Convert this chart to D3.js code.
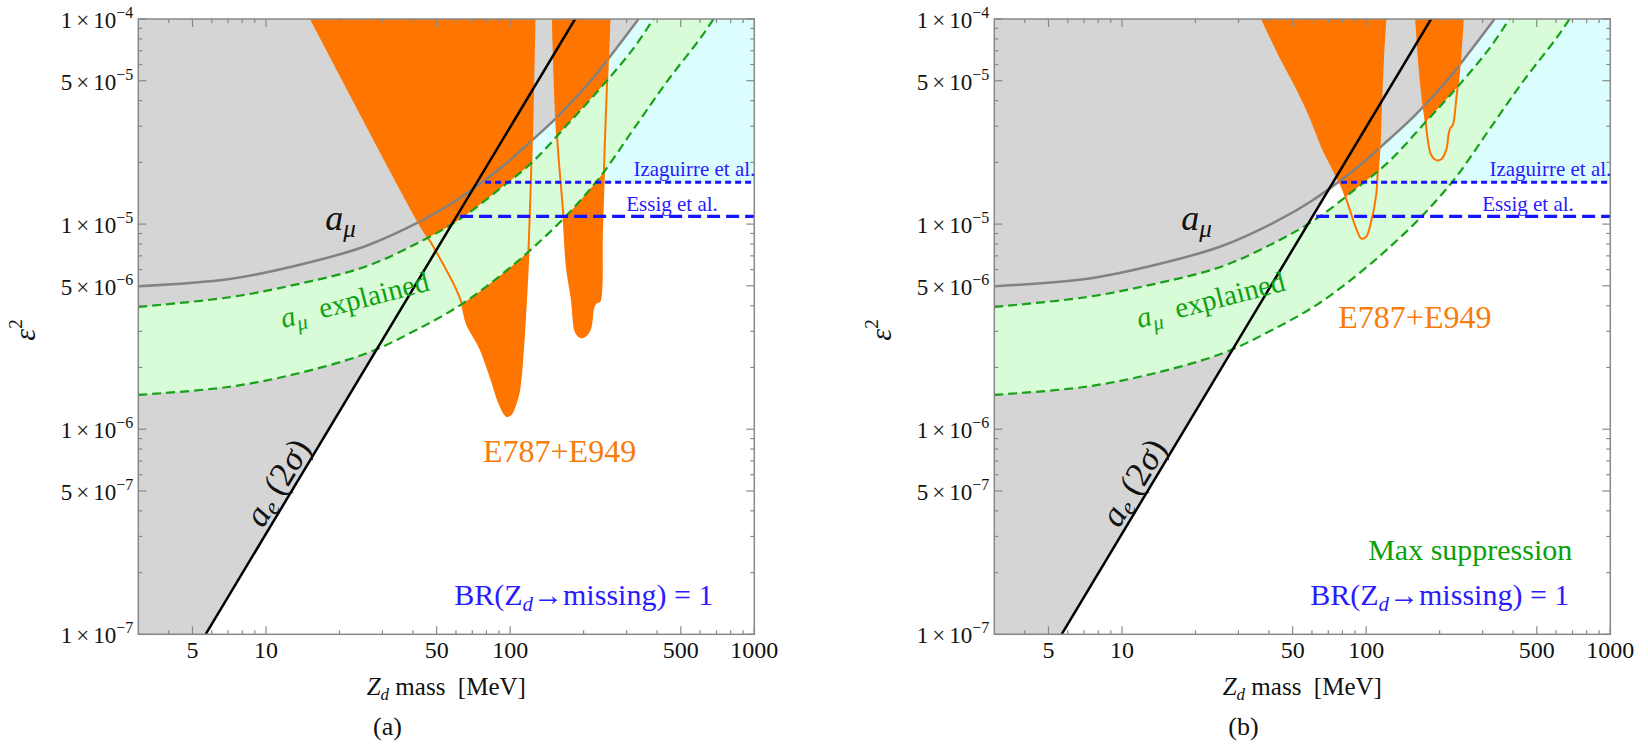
<!DOCTYPE html>
<html>
<head>
<meta charset="utf-8">
<script src="https://cdn.jsdelivr.net/npm/d3@7"></script>
<style>
  body { margin: 0; background: #fff; }
</style>
</head>
<body>
<svg id="chart" width="1648" height="744"></svg>
<script>
// ---- data: [mass in MeV, epsilon^2] ----
let xTicksMajor = [5, 10, 50, 100, 500, 1000];
let xTickLabels = ["5", "10", "50", "100", "500", "1000"];
let xTicksMinor = [4, 6, 7, 8, 9, 20, 30, 40, 60, 70, 80, 90, 200, 300, 400, 600, 700, 800, 900];
let yTicksMajor = [1e-7, 5e-7, 1e-6, 5e-6, 1e-5, 5e-5, 1e-4];
let yTickMant = ["1", "5", "1", "5", "1", "5", "1"];
let yTickExp = ["7", "7", "6", "6", "5", "5", "4"];
let yTicksMinor = [2e-7, 3e-7, 4e-7, 6e-7, 7e-7, 8e-7, 9e-7,
                   2e-6, 3e-6, 4e-6, 6e-6, 7e-6, 8e-6, 9e-6,
                   2e-5, 3e-5, 4e-5, 6e-5, 7e-5, 8e-5, 9e-5];

// a_mu (gray solid) boundary
let aMuLine = [[3, 4.98e-6], [7.1, 5.4e-6], [13.5, 6.3e-6], [25.5, 7.8e-6], [42.8, 1.03e-5],
               [60, 1.3e-5], [91, 1.87e-5], [124.6, 2.6e-5], [160.3, 3.44e-5], [220, 5.2e-5],
               [282, 7.6e-5], [335.6, 1e-4]];
// a_mu explained band (green dashed)
let greenUpper = [[3, 3.95e-6], [7.1, 4.4e-6], [13.5, 5.1e-6], [25.5, 6.2e-6], [42.8, 8.2e-6],
                  [62.4, 1.06e-5], [91, 1.49e-5], [124.6, 2.03e-5], [170.8, 3.04e-5],
                  [233.8, 4.59e-5], [320, 7.19e-5], [386, 1e-4]];
let greenLower = [[3, 1.47e-6], [7.1, 1.61e-6], [13.5, 1.87e-6], [26, 2.35e-6], [40.2, 3.0e-6],
                  [63, 4.05e-6], [91, 5.6e-6], [123, 7.6e-6], [170.8, 1.106e-5], [233.8, 1.7e-5],
                  [320, 2.9e-5], [438.6, 4.95e-5], [600.8, 8.05e-5], [681, 1e-4]];
// a_e (2 sigma), black
let aeLine = [[5.66, 1e-7], [184.5, 1e-4]];
// Izaguirre et al. (dotted) and Essig et al. (dashed)
let izaguirre = [[79, 1.6e-5], [1000, 1.6e-5]];
let essig = [[62.4, 1.09e-5], [1000, 1.09e-5]];

// E787+E949, panel (a)
let e787a1 = [[15.3, 1e-4], [42.1, 1.026e-5], [48.5, 7.75e-6], [59.5, 4.94e-6], [63.4, 4.1e-6],
              [66.4, 3.28e-6], [75.4, 2.48e-6], [82.8, 1.83e-6], [91, 1.31e-6], [96.9, 1.16e-6],
              [101, 1.19e-6], [104.5, 1.3e-6], [108.1, 1.49e-6], [110, 1.7e-6], [113.4, 2.67e-6],
              [115.2, 3.6e-6], [118.9, 7.33e-6], [121.6, 1.61e-5], [123.9, 4.1e-5], [125.8, 1e-4]];
let e787a2 = [[149.6, 1e-4], [155.4, 2.78e-5], [165.4, 1.085e-5], [170.8, 6.19e-6], [179.1, 4.26e-6],
              [184.7, 3.04e-6], [190, 2.86e-6], [196.7, 2.8e-6], [204, 2.86e-6], [212.8, 3.1e-6],
              [219.5, 3.95e-6], [226.6, 4.18e-6], [232.3, 4.2e-6], [237.6, 9.04e-6],
              [245.1, 2.78e-5], [255.3, 1e-4]];
// E787+E949, panel (b)
let e787b1 = [[37.5, 1e-4], [44.1, 6.68e-5], [51.6, 4.68e-5], [58.6, 3.4e-5], [62.4, 2.82e-5],
              [66.4, 2.34e-5], [71.9, 1.94e-5], [76.5, 1.67e-5], [80.2, 1.49e-5], [85.4, 1.19e-5],
              [91, 9.53e-6], [95.4, 8.51e-6], [100, 8.67e-6], [104.8, 1.026e-5], [109.9, 1.385e-5],
              [111.6, 1.8e-5], [113.4, 2.34e-5], [115.2, 3.95e-5], [117.8, 7.19e-5], [120, 1e-4]];
let e787b2 = [[160.3, 1e-4], [165.4, 5.85e-5], [170.6, 4.03e-5], [175, 3.22e-5], [178.9, 2.57e-5],
              [184.7, 2.17e-5], [193.6, 2.05e-5], [203, 2.07e-5], [212.8, 2.3e-5], [218, 2.77e-5],
              [220.9, 2.93e-5], [226.5, 3.04e-5], [233.8, 4.03e-5], [241.2, 5.85e-5], [248.8, 1e-4]];

let panels = [
  { left: 138.3, tag: "(a)", tagX: 387.5, regions: [e787a1, e787a2], e787Label: [483, 461.7], maxSupp: false },
  { left: 994.3, tag: "(b)", tagX: 1243.5, regions: [e787b1, e787b2], e787Label: [1338.3, 328.3], maxSupp: true }
];

let plotW = 616, plotTop = 19, plotBottom = 634.3;
let serif = "'Liberation Serif', 'Times New Roman', serif";
let col = {
  gray: "#d5d5d5", cyan: "#dcfdfd", green: "#d8fbd8", orange: "#fe7600",
  grayLine: "#828282", greenLine: "#19a019", blue: "#1414ff", blueText: "#2a1aff",
  greenText: "#10a010", orangeText: "#f77c0a", frame: "#888888"
};

let svg = d3.select("#chart");

panels.forEach(function(p, pi) {
  let x = d3.scaleLog().domain([3, 1000]).range([p.left, p.left + plotW]);
  let y = d3.scaleLog().domain([1e-7, 1e-4]).range([plotBottom, plotTop]);
  let line = d3.line().x(d => x(d[0])).y(d => y(d[1])).curve(d3.curveCatmullRom.alpha(0.5));
  let straight = d3.line().x(d => x(d[0])).y(d => y(d[1]));

  let g = svg.append("g");
  svg.append("clipPath").attr("id", "clip" + pi)
    .append("rect").attr("x", p.left).attr("y", plotTop).attr("width", plotW).attr("height", plotBottom - plotTop);
  let plot = g.append("g").attr("clip-path", "url(#clip" + pi + ")");

  // small helper so every label gets the serif font inline
  function label(parent) {
    return parent.append("text").style("font-family", serif).style("white-space", "pre");
  }

  // cyan excluded region above Izaguirre et al.
  plot.append("rect")
    .attr("x", x(izaguirre[0][0])).attr("y", y(1e-4))
    .attr("width", x(1000) - x(izaguirre[0][0])).attr("height", y(izaguirre[0][1]) - y(1e-4))
    .attr("fill", col.cyan);

  // gray excluded regions (a_mu and a_e)
  plot.append("path")
    .attr("d", line(aMuLine) + "L" + x(3) + "," + y(1e-4) + "Z")
    .attr("fill", col.gray);
  plot.append("path")
    .attr("d", straight(aeLine) + "L" + x(3) + "," + y(1e-4) + "L" + x(3) + "," + y(1e-7) + "Z")
    .attr("fill", col.gray);

  // E787+E949 fills
  p.regions.forEach(function(r) {
    plot.append("path").attr("d", line(r) + "Z").attr("fill", col.orange);
  });

  // a_mu explained band
  let up = line(greenUpper);
  let lo = line(greenLower.slice().reverse()).replace(/^M/, "L");
  plot.append("path").attr("d", up + lo + "Z").attr("fill", col.green);

  // lines
  plot.append("path").attr("d", line(aMuLine)).attr("fill", "none")
    .attr("stroke", col.grayLine).attr("stroke-width", 2.5);
  p.regions.forEach(function(r) {
    plot.append("path").attr("d", line(r)).attr("fill", "none")
      .attr("stroke", col.orange).attr("stroke-width", 2);
  });
  [greenUpper, greenLower].forEach(function(c) {
    plot.append("path").attr("d", line(c)).attr("fill", "none")
      .attr("stroke", col.greenLine).attr("stroke-width", 2.2).attr("stroke-dasharray", "9,5");
  });
  plot.append("path").attr("d", straight(aeLine)).attr("fill", "none")
    .attr("stroke", "#000").attr("stroke-width", 2.5);
  plot.append("path").attr("d", straight(izaguirre)).attr("fill", "none")
    .attr("stroke", col.blue).attr("stroke-width", 3.2).attr("stroke-dasharray", "6,4");
  plot.append("path").attr("d", straight(essig)).attr("fill", "none")
    .attr("stroke", col.blue).attr("stroke-width", 3.2).attr("stroke-dasharray", "13,6");

  // frame and ticks
  g.append("rect").attr("x", p.left).attr("y", plotTop).attr("width", plotW).attr("height", plotBottom - plotTop)
    .attr("fill", "none").attr("stroke", col.frame).attr("stroke-width", 1.5);
  let ticks = g.append("g").attr("stroke", col.frame).attr("stroke-width", 1.2);
  function xt(v, len) {
    ticks.append("line").attr("x1", x(v)).attr("x2", x(v)).attr("y1", plotBottom).attr("y2", plotBottom - len);
    ticks.append("line").attr("x1", x(v)).attr("x2", x(v)).attr("y1", plotTop).attr("y2", plotTop + len);
  }
  function yt(v, len) {
    ticks.append("line").attr("y1", y(v)).attr("y2", y(v)).attr("x1", p.left).attr("x2", p.left + len);
    ticks.append("line").attr("y1", y(v)).attr("y2", y(v)).attr("x1", p.left + plotW).attr("x2", p.left + plotW - len);
  }
  xTicksMajor.forEach(v => xt(v, 8));
  xTicksMinor.forEach(v => xt(v, 4));
  yTicksMajor.forEach(v => yt(v, 8));
  yTicksMinor.forEach(v => yt(v, 4));

  // tick labels
  xTicksMajor.forEach(function(v, i) {
    label(g).attr("x", x(v)).attr("y", 658).attr("text-anchor", "middle")
      .attr("font-size", 24).attr("fill", "#111").text(xTickLabels[i]);
  });
  yTicksMajor.forEach(function(v, i) {
    let t = label(g).attr("x", p.left - 5).attr("y", y(v) + 9)
      .attr("text-anchor", "end").attr("font-size", 23).attr("fill", "#111");
    t.append("tspan").text(yTickMant[i]);
    t.append("tspan").attr("dx", 4).text("\u00d7");
    t.append("tspan").attr("dx", 4).text("10");
    t.append("tspan").attr("dy", -10).attr("font-size", 16).text("\u2212" + yTickExp[i]);
  });

  // axis titles
  let xl = label(g).attr("x", p.left + plotW / 2).attr("y", 695).attr("text-anchor", "middle")
    .attr("font-size", 25).attr("fill", "#111");
  xl.append("tspan").attr("font-style", "italic").text("Z");
  xl.append("tspan").attr("font-style", "italic").attr("font-size", 17).attr("dy", 5).text("d");
  xl.append("tspan").attr("dy", -5).text(" mass  [MeV]");

  let yl = label(g).attr("transform", "translate(" + (p.left - 103) + ",330) rotate(-90)")
    .attr("text-anchor", "middle").attr("font-size", 30).attr("fill", "#111");
  yl.append("tspan").attr("font-style", "italic").text("\u03b5");
  yl.append("tspan").attr("font-size", 19).attr("dy", -13).text("2");

  label(g).attr("x", p.tagX).attr("y", 735).attr("text-anchor", "middle")
    .attr("font-size", 26).attr("fill", "#111").text(p.tag);

  // in-plot labels
  let am = label(g).attr("x", p.left + 187).attr("y", 230).attr("font-size", 36).attr("fill", "#111");
  am.append("tspan").attr("font-style", "italic").text("a");
  am.append("tspan").attr("font-style", "italic").attr("font-size", 25).attr("dy", 7).text("\u03bc");

  let ex = label(g).attr("transform", "translate(" + (p.left + 145) + ",328.3) rotate(-14.5)")
    .attr("font-size", 29).attr("fill", col.greenText);
  ex.append("tspan").attr("font-style", "italic").text("a");
  ex.append("tspan").attr("font-style", "italic").attr("font-size", 21).attr("dy", 6).text("\u03bc");
  ex.append("tspan").attr("dy", -6).text("  explained");

  // a_e label along the black line
  let ang = Math.atan2(y(aeLine[1][1]) - y(aeLine[0][1]), x(aeLine[1][0]) - x(aeLine[0][0])) * 180 / Math.PI;
  let ax = x(aeLine[0][0]) + (x(aeLine[1][0]) - x(aeLine[0][0])) * (y(5e-7) - y(aeLine[0][1])) / (y(aeLine[1][1]) - y(aeLine[0][1]));
  let ae = label(g).attr("transform", "translate(" + ax + "," + y(5e-7) + ") rotate(" + ang + ")")
    .attr("text-anchor", "middle").attr("font-size", 35).attr("fill", "#111").attr("dy", -5);
  ae.append("tspan").attr("font-style", "italic").text("a");
  ae.append("tspan").attr("font-style", "italic").attr("font-size", 23).attr("dy", 4).text("e");
  ae.append("tspan").attr("dy", -4).text(" (2");
  ae.append("tspan").attr("font-style", "italic").text("\u03c3");
  ae.append("tspan").text(")");

  label(g).attr("x", p.e787Label[0]).attr("y", p.e787Label[1]).attr("font-size", 32)
    .attr("fill", col.orangeText).text("E787+E949");

  label(g).attr("x", p.left + plotW + 1).attr("y", 175.7).attr("text-anchor", "end")
    .attr("font-size", 21).attr("fill", col.blueText).text("Izaguirre et al.");
  label(g).attr("x", p.left + 488).attr("y", 210.7)
    .attr("font-size", 21).attr("fill", col.blueText).text("Essig et al.");

  if (p.maxSupp) {
    label(g).attr("x", p.left + plotW - 38).attr("y", 560).attr("text-anchor", "end")
      .attr("font-size", 30).attr("fill", "#0aa00a").text("Max suppression");
  }
  let br = label(g).attr("x", p.left + plotW - 41).attr("y", 605).attr("text-anchor", "end")
    .attr("font-size", 30).attr("fill", col.blueText);
  br.append("tspan").text("BR(Z");
  br.append("tspan").attr("font-style", "italic").attr("font-size", 21).attr("dy", 6).text("d");
  br.append("tspan").attr("dy", -6).text("\u2192missing) = 1");
});
</script>
</body>
</html>
